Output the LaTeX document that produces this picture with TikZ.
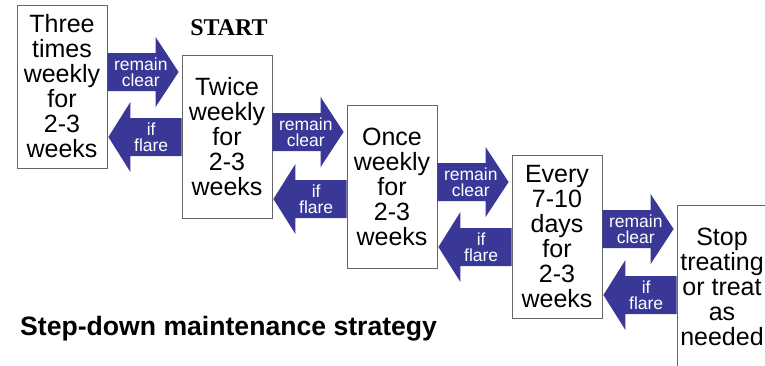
\documentclass[tikz,border=0pt]{standalone}
\usepackage{fontspec}
\setmainfont{Liberation Sans}
\newfontfamily\startfont{Liberation Serif}
\usetikzlibrary{calc}
\definecolor{flareblue}{RGB}{58,56,150}
% block arrow to the next (lower) step: left box, right box, height
\newcommand{\clearstep}[3]{\coordinate (t#1) at (b#1.east |- 0,#3); \coordinate (h#1) at (b#2.west |- 0,#3);
  \fill[flareblue] ($(t#1)+(0,-19)$) -- ($(h#1)+(-26,-19)$) -- ($(h#1)+(-26,-35)$) -- ($(h#1)+(-3,0)$) -- ($(h#1)+(-26,35)$) -- ($(h#1)+(-26,19)$) -- ($(t#1)+(0,19)$) -- cycle;
  \node[arrowtext] (rc#1) at ($(t#1)!0.45!(h#1)$) {remain\\clear};}
% block arrow back to the step before: left box, right box, height
\newcommand{\flarestep}[3]{\coordinate (s#1) at (b#2.west |- 0,#3); \coordinate (e#1) at (b#1.east |- 0,#3);
  \fill[flareblue] ($(s#1)+(0,-19)$) -- ($(e#1)+(23,-19)$) -- ($(e#1)+(23,-35)$) -- ($(e#1)+(1,0)$) -- ($(e#1)+(23,35)$) -- ($(e#1)+(23,19)$) -- ($(s#1)+(0,19)$) -- cycle;
  \node[arrowtext] (fl#1) at ($(s#1)!0.41!(e#1)$) {if\\flare};}
\begin{document}
\begin{tikzpicture}[x=1pt,y=-1pt,
    stepbox/.style={draw=gray!80!black, line width=0.8pt, fill=white, minimum width=90pt, minimum height=163pt, inner sep=0pt, align=center, font=\fontsize{25}{25}\selectfont},
    arrowtext/.style={text=white, align=center, inner sep=0pt, font=\fontsize{17.5}{16}\selectfont}]
    \clip (0,0) rectangle (765,365);
    \fill[white] (0,0) rectangle (765,365);
    %steps
    \foreach \n/\txt in {1/{Three\\times\\weekly\\for\\2-3\\weeks}, 2/{Twice\\weekly\\for\\2-3\\weeks}, 3/{Once\\weekly\\for\\2-3\\weeks}, 4/{Every\\7-10\\days\\for\\2-3\\weeks}, 5/{Stop\\treating\\or treat\\as\\needed}}
        \node[stepbox] (b\n) at ({62+165*(\n-1)}, {86.5+50*(\n-1)}) {\txt};
    %arrows
    \foreach \i/\j/\yc/\yf in {1/2/72/137, 2/3/132/199, 3/4/182/247, 4/5/229/295} {
        \clearstep{\i}{\j}{\yc}
        \flarestep{\i}{\j}{\yf}
    }
    \node[font=\startfont\bfseries\fontsize{24}{26}\selectfont, anchor=base] (start) at (229,35) {START};
    \node[font=\bfseries\fontsize{26.6}{30}\selectfont, anchor=base west, inner sep=0pt] (title) at (20,335) {Step-down maintenance strategy};
\end{tikzpicture}
\end{document}
